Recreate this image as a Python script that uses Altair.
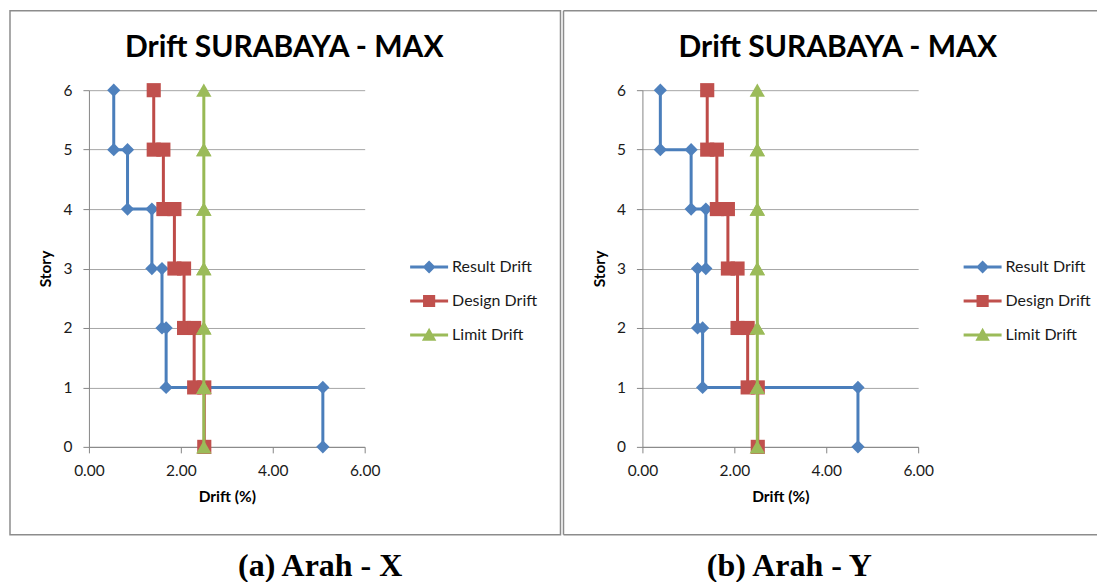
import altair as alt
import pandas as pd

# ---- data ----
stories = [6, 5, 5, 4, 4, 3, 3, 2, 2, 1, 1, 0]

result_x = [0.54, 0.54, 0.84, 0.84, 1.37, 1.37, 1.59, 1.59, 1.68, 1.68, 5.09, 5.09]
design_x = [1.41, 1.41, 1.62, 1.62, 1.86, 1.86, 2.07, 2.07, 2.29, 2.29, 2.51, 2.51]
limit_x = [2.50, 2.50, 2.50, 2.50, 2.50, 2.50, 2.50, 2.50, 2.50, 2.50, 2.50, 2.50]

result_y = [0.39, 0.39, 1.06, 1.06, 1.38, 1.38, 1.20, 1.20, 1.31, 1.31, 4.69, 4.69]
design_y = [1.41, 1.41, 1.62, 1.62, 1.86, 1.86, 2.07, 2.07, 2.29, 2.29, 2.51, 2.51]
limit_y = [2.50, 2.50, 2.50, 2.50, 2.50, 2.50, 2.50, 2.50, 2.50, 2.50, 2.50, 2.50]

series_names = ["Result Drift", "Design Drift", "Limit Drift"]
x_ticks = [0, 2, 4, 6]
y_ticks = [0, 1, 2, 3, 4, 5, 6]
chart_title = "Drift SURABAYA - MAX"
captions = ["(a) Arah - X", "(b) Arah - Y"]

# ---- styles ----
line_colors = ["#4A7EBB", "#BE4B48", "#98B954"]
marker_colors = ["#4F81BD", "#C0504D", "#9BBB59"]
shapes = ["diamond", "square", "triangle-up"]
marker_sizes = [175, 200, 235]
legend_paths = [
    "M-1,-0.075L1,-0.075L1,0.075L-1,0.075Z M0,-0.34L0.34,0L0,0.34L-0.34,0Z",
    "M-1,-0.075L1,-0.075L1,0.075L-1,0.075Z M-0.32,-0.32L0.32,-0.32L0.32,0.32L-0.32,0.32Z",
    "M-1,-0.075L1,-0.075L1,0.075L-1,0.075Z M0,-0.38L0.38,0.3L-0.38,0.3Z",
]
FONT = "Lato"
W, H = 276, 357

xenc = alt.X("drift:Q",
             scale=alt.Scale(domain=[0, 6], nice=False, zero=False),
             axis=alt.Axis(values=x_ticks, format=".2f", title="Drift (%)", grid=False,
                           labelFlush=False, labelPadding=11, titlePadding=10))
yenc = alt.Y("story:Q",
             scale=alt.Scale(domain=[0, 6], nice=False),
             axis=alt.Axis(values=y_ticks, format="d", title="Story", grid=True,
                           labelFlush=False, labelPadding=11, titlePadding=9))


def panel(drifts, caption, cap_x, frame_right, closed):
    layers = []
    # chart-area frame
    fdf = pd.DataFrame({"k": [0]})
    if closed:
        layers.append(alt.Chart(fdf).mark_rect(filled=False, stroke="#8C8C8C", strokeWidth=1.5).encode(
            x=alt.value(-79), x2=alt.value(frame_right), y=alt.value(-79.5), y2=alt.value(445)))
    else:
        base = alt.Chart(fdf).mark_rule(stroke="#8C8C8C", strokeWidth=1.5)
        layers.append(base.encode(x=alt.value(-79), x2=alt.value(frame_right), y=alt.value(-79.5)))
        layers.append(base.encode(x=alt.value(-79), x2=alt.value(frame_right), y=alt.value(445)))
        layers.append(base.encode(x=alt.value(-79), y=alt.value(-79.5), y2=alt.value(445)))

    for name, vals, lc, mc, shp, sz in zip(series_names, drifts, line_colors, marker_colors, shapes, marker_sizes):
        df = pd.DataFrame({"drift": vals, "story": stories, "idx": list(range(len(vals)))})
        df["series"] = name
        layers.append(alt.Chart(df).mark_line(color=lc, strokeWidth=3).encode(
            x=xenc, y=yenc, order="idx:Q"))
        layers.append(alt.Chart(df).mark_point(filled=True, opacity=1, color=mc, shape=shp, size=sz).encode(
            x=xenc, y=yenc))

    # legend-only layer
    ldf = pd.DataFrame({"series": series_names})
    leg = alt.Legend(title=None, orient="none", legendX=321.5, legendY=158, padding=0,
                     symbolSize=1444, labelFont=FONT, labelFontSize=16, labelColor="#1a1a1a",
                     labelOffset=4, rowPadding=7, symbolOpacity=1, symbolStrokeWidth=0)
    layers.append(alt.Chart(ldf).transform_filter("false").mark_point(filled=True, opacity=1, size=1444).encode(
        color=alt.Color("series:N", scale=alt.Scale(domain=series_names, range=marker_colors), legend=leg),
        shape=alt.Shape("series:N", scale=alt.Scale(domain=series_names, range=legend_paths), legend=leg)))

    # title
    layers.append(alt.Chart(pd.DataFrame({"t": [chart_title]})).mark_text(
        font=FONT, fontSize=30, fontWeight="bold", color="#000000", align="center", baseline="alphabetic").encode(
        text="t:N", x=alt.value(195.5), y=alt.value(-33)))
    # caption
    layers.append(alt.Chart(pd.DataFrame({"t": [caption]})).mark_text(
        font="Liberation Serif", fontSize=32, fontWeight="bold", color="#000000", align="center",
        baseline="alphabetic").encode(
        text="t:N", x=alt.value(cap_x), y=alt.value(486)))

    return alt.layer(*layers).properties(width=W, height=H)


left = panel([result_x, design_x, limit_x], captions[0], 231.5, 472, True)
right = panel([result_y, design_y, limit_y], captions[1], 147, 455, False)

chart = alt.hconcat(left, right, spacing=1).resolve_scale(
    color="independent", shape="independent").resolve_legend(
    color="independent", shape="independent").properties(
    padding={"left": 1, "top": 1, "right": 0, "bottom": 0}
).configure_view(stroke=None).configure_axis(
    labelFont=FONT, labelFontSize=15.5, labelColor="#1a1a1a",
    titleFont=FONT, titleFontSize=15.5, titleFontWeight="bold", titleColor="#000000",
    domainColor="#868686", tickColor="#868686", tickSize=6,
    gridColor="#A6A6A6", gridWidth=1,
)

chart.save("out.html", embed_options={"renderer": "svg", "actions": False})
